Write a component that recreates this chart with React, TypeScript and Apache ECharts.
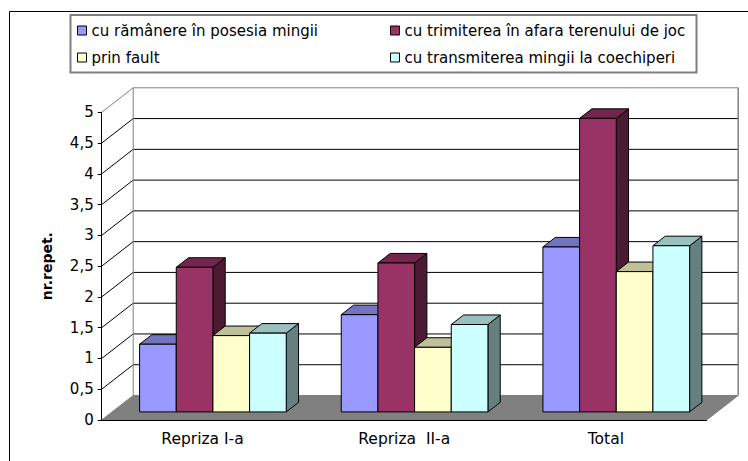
import React, { useEffect, useRef } from "react";
import * as echarts from "echarts";

const categories = ["Repriza I-a", "Repriza  II-a", "Total"];
const seriesNames = [
  "cu rămânere în posesia mingii",
  "cu trimiterea în afara terenului de joc",
  "prin fault",
  "cu transmiterea mingii la coechiperi",
];
const valRamanere = [1.1, 1.58, 2.68];
const valTrimitere = [2.35, 2.42, 4.77];
const valFault = [1.24, 1.05, 2.28];
const valTransmitere = [1.28, 1.42, 2.7];
const yTicks = [0, 0.5, 1, 1.5, 2, 2.5, 3, 3.5, 4, 4.5, 5];

const seriesValues = [valRamanere, valTrimitere, valFault, valTransmitere];
const frontColors = ["#9999FF", "#993366", "#FFFFCC", "#CCFFFF"];
const topColors = ["#7373BF", "#73264D", "#BFBF99", "#99BFBF"];
const sideColors = ["#4D4D80", "#4D1A33", "#80806A", "#668080"];

const DX = 31.5;
const DY = -24.5;
const F1 = 0.33;
const F2 = 0.72;
const FONT = "DejaVu Sans";

export default function App() {
  const ref = useRef<HTMLDivElement>(null);
  useEffect(() => {
    const chart = echarts.init(ref.current!, null, { renderer: "svg" });

    const wallsRender = (params: any, api: any) => {
      const cs = params.coordSys;
      const x0 = cs.x;
      const x1 = cs.x + cs.width;
      const yZero = api.coord([0, 0])[1];
      const children: any[] = [];
      children.push({
        type: "polygon",
        shape: {
          points: [
            [x0, yZero],
            [x1, yZero],
            [x1 + DX, yZero + DY],
            [x0 + DX, yZero + DY],
          ],
        },
        style: { fill: "#808080", stroke: "#808080", lineWidth: 1 },
      });
      yTicks.forEach((v, i) => {
        const y = api.coord([0, v])[1];
        if (i === 0) return;
        const last = i === yTicks.length - 1;
        const col = last ? "#808080" : "#000";
        children.push({
          type: "line",
          shape: { x1: x0, y1: y, x2: x0 + DX, y2: y + DY },
          style: { stroke: col, lineWidth: 1 },
        });
        children.push({
          type: "line",
          shape: { x1: x0 + DX, y1: y + DY, x2: x1 + DX, y2: y + DY },
          style: { stroke: col, lineWidth: 1 },
        });
      });
      const yTop = api.coord([0, yTicks[yTicks.length - 1]])[1] + DY;
      const yBot = yZero + DY;
      children.push({
        type: "line",
        shape: { x1: x0 + DX, y1: yTop, x2: x0 + DX, y2: yBot },
        style: { stroke: "#808080", lineWidth: 1 },
      });
      children.push({
        type: "line",
        shape: { x1: x1 + DX, y1: yTop, x2: x1 + DX, y2: yBot },
        style: { stroke: "#808080", lineWidth: 1.5 },
      });
      return { type: "group", children };
    };

    const barRender = (j: number) => (params: any, api: any) => {
      const cat = api.value(0);
      const val = api.value(1);
      const base = api.coord([cat, 0]);
      const top = api.coord([cat, val]);
      const band = api.size([1, 0])[0];
      const w = band / 5.5;
      const x0 = base[0] - band / 2 + 0.75 * w + j * w + F1 * DX;
      const yb = base[1] + F1 * DY;
      const yt = top[1] + F1 * DY;
      const ddx = (F2 - F1) * DX;
      const ddy = (F2 - F1) * DY;
      const stroke = { stroke: "#000", lineWidth: 1, lineJoin: "round" };
      return {
        type: "group",
        children: [
          {
            type: "polygon",
            shape: {
              points: [
                [x0 + w, yt],
                [x0 + w + ddx, yt + ddy],
                [x0 + w + ddx, yb + ddy],
                [x0 + w, yb],
              ],
            },
            style: { fill: sideColors[j], ...stroke },
          },
          {
            type: "polygon",
            shape: {
              points: [
                [x0, yt],
                [x0 + w, yt],
                [x0 + w + ddx, yt + ddy],
                [x0 + ddx, yt + ddy],
              ],
            },
            style: { fill: topColors[j], ...stroke },
          },
          {
            type: "rect",
            shape: { x: x0, y: yt, width: w, height: yb - yt },
            style: { fill: frontColors[j], ...stroke },
          },
        ],
      };
    };

    const legendCommon = {
      orient: "vertical",
      padding: 0,
      itemWidth: 9,
      itemHeight: 9,
      itemGap: 12,
      selectedMode: false,
      icon: "rect",
      itemStyle: { borderColor: "#000", borderWidth: 1 },
      textStyle: { fontFamily: FONT, fontSize: 15, color: "#000" },
    };

    chart.setOption({
      animation: false,
      textStyle: { fontFamily: FONT },
      legend: [
        { ...legendCommon, data: [seriesNames[0], seriesNames[2]], left: 77, top: 23 },
        { ...legendCommon, data: [seriesNames[1], seriesNames[3]], left: 390, top: 23 },
      ],
      graphic: [
        {
          type: "rect",
          z: 0,
          shape: { x: 9.5, y: 11.5, width: 780, height: 480 },
          style: { fill: "none", stroke: "#000", lineWidth: 1 },
        },
        {
          type: "rect",
          z: 0,
          shape: { x: 70.5, y: 15, width: 626, height: 57.5 },
          style: { fill: "#fff", stroke: "#808080", lineWidth: 2 },
        },
      ],
      grid: { left: 101.7, top: 112.3, right: 41.3, bottom: 41 },
      xAxis: {
        type: "category",
        data: categories,
        axisLine: { lineStyle: { color: "#000", width: 1 } },
        axisTick: { length: 4, lineStyle: { color: "#000" } },
        axisLabel: { fontFamily: FONT, fontSize: 15.5, color: "#000", margin: 11 },
        splitLine: { show: false },
        z: 5,
      },
      yAxis: {
        type: "value",
        min: 0,
        max: 5,
        interval: 0.5,
        name: "nr.repet.",
        nameLocation: "middle",
        nameRotate: 90,
        nameGap: 48,
        nameTextStyle: { fontFamily: FONT, fontSize: 14, fontWeight: "bold", color: "#000" },
        axisLine: { show: true, lineStyle: { color: "#000", width: 1 } },
        axisTick: { show: true, length: 4, lineStyle: { color: "#000" } },
        axisLabel: {
          fontFamily: FONT,
          fontSize: 15,
          color: "#000",
          margin: 8,
          formatter: (v: number) => String(v).replace(".", ","),
        },
        splitLine: { show: false },
        z: 5,
      },
      series: [
        {
          type: "custom",
          name: "walls",
          z: 1,
          silent: true,
          renderItem: wallsRender,
          data: [[0, 0]],
        },
        ...seriesValues.map((vals, j) => ({
          type: "custom",
          name: seriesNames[j],
          z: 2,
          itemStyle: { color: frontColors[j] },
          renderItem: barRender(j),
          data: vals.map((v, i) => [i, v]),
        })),
      ],
    });
    return () => chart.dispose();
  }, []);
  return (
    <div
      ref={ref}
      style={{ position: "fixed", left: 0, top: 0, width: 748, height: 461, background: "#fff" }}
    />
  );
}
